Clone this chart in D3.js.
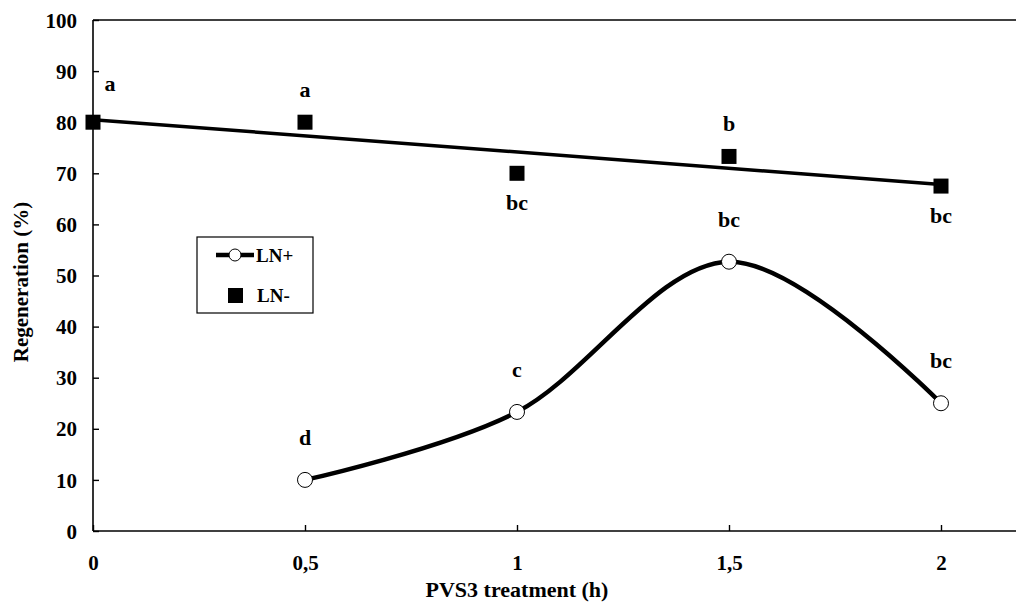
<!DOCTYPE html>
<html>
<head>
<meta charset="utf-8">
<script src="https://cdn.jsdelivr.net/npm/d3@7"></script>
<style>
  html, body { margin: 0; padding: 0; background: #fff; }
  svg { display: block; }
  svg text { font-family: "Liberation Serif", "DejaVu Serif", serif; font-weight: bold; fill: #000; }
</style>
</head>
<body>
<svg id="chart" width="1016" height="607"></svg>
<script>
// PVS3 exposure times (h)
const treatment = [0, 0.5, 1, 1.5, 2];

// Regeneration (%) with and without LN
const lnMinus = [80, 80, 70, 73.3, 67.5];
const lnPlusTreatment = [0.5, 1, 1.5, 2];
const lnPlus = [10, 23.3, 52.7, 25];

// Significance letters
const lnMinusLetters = ["a", "a", "bc", "b", "bc"];
const lnPlusLetters = ["d", "c", "bc", "bc"];

const xTicks = [0, 0.5, 1, 1.5, 2];
const xTickLabels = ["0", "0,5", "1", "1,5", "2"];
const yTicks = [0, 10, 20, 30, 40, 50, 60, 70, 80, 90, 100];

const svg = d3.select("#chart");
const plotLeft = 93, plotTop = 20, plotBottom = 531;

const x = d3.scaleLinear().domain([0, 2]).range([plotLeft, 941]);
const y = d3.scaleLinear().domain([0, 100]).range([plotBottom, plotTop]);

// Frame: left axis, bottom axis and top border
const frame = svg.append("g").attr("stroke", "#000").attr("stroke-width", 1.6);
frame.append("line").attr("x1", plotLeft).attr("x2", 1016).attr("y1", plotBottom).attr("y2", plotBottom);
frame.append("line").attr("x1", plotLeft).attr("x2", 1016).attr("y1", plotTop).attr("y2", plotTop);
frame.append("line").attr("x1", plotLeft).attr("x2", plotLeft).attr("y1", plotTop).attr("y2", plotBottom);

// Y axis: inward ticks
const yAxis = d3.axisLeft(y).tickValues(yTicks).tickSize(-6).tickPadding(16).tickFormat(d3.format("d"));
const gy = svg.append("g").attr("transform", `translate(${plotLeft},0)`).call(yAxis);
gy.attr("font-family", null).attr("font-size", null);
gy.select(".domain").remove();
gy.selectAll(".tick line").attr("stroke", "#000").attr("stroke-width", 1.4);
gy.selectAll(".tick text").style("font-size", "21px").attr("dy", "0.34em");

// X axis: inward ticks
const xAxis = d3.axisBottom(x).tickValues(xTicks).tickSize(-6).tickPadding(24)
  .tickFormat((d, i) => xTickLabels[i]);
const gx = svg.append("g").attr("transform", `translate(0,${plotBottom})`).call(xAxis);
gx.attr("font-family", null).attr("font-size", null);
gx.select(".domain").remove();
gx.selectAll(".tick line").attr("stroke", "#000").attr("stroke-width", 1.4);
gx.selectAll(".tick text").style("font-size", "21px").attr("dy", "0.71em");

// Axis titles
svg.append("text").attr("x", x(1)).attr("y", 597).attr("text-anchor", "middle")
  .style("font-size", "22px").text("PVS3 treatment (h)");
svg.append("text").attr("transform", `translate(28,282) rotate(-90)`)
  .attr("text-anchor", "middle").style("font-size", "21px").text("Regeneration (%)");

// LN- linear trend line (least squares)
const mx = d3.mean(treatment), my = d3.mean(lnMinus);
const slope = d3.sum(treatment, (t, i) => (t - mx) * (lnMinus[i] - my)) /
              d3.sum(treatment, t => (t - mx) * (t - mx));
const intercept = my - slope * mx;
const xExt = d3.extent(treatment);
svg.append("line")
  .attr("x1", x(xExt[0])).attr("y1", y(intercept + slope * xExt[0]))
  .attr("x2", x(xExt[1])).attr("y2", y(intercept + slope * xExt[1]))
  .attr("stroke", "#000").attr("stroke-width", 3.5);

// LN+ smoothed curve
const plusPts = lnPlusTreatment.map((t, i) => [t, lnPlus[i]]);
svg.append("path")
  .datum(plusPts)
  .attr("d", d3.line().x(d => x(d[0])).y(d => y(d[1])).curve(d3.curveCardinal.tension(0)))
  .attr("fill", "none").attr("stroke", "#000").attr("stroke-width", 4.5);

// LN- markers
const sq = 15;
svg.append("g").selectAll("rect").data(treatment).join("rect")
  .attr("x", d => x(d) - sq / 2)
  .attr("y", (d, i) => y(lnMinus[i]) - sq / 2)
  .attr("width", sq).attr("height", sq).attr("fill", "#000");

// LN+ markers
svg.append("g").selectAll("circle").data(plusPts).join("circle")
  .attr("cx", d => x(d[0])).attr("cy", d => y(d[1])).attr("r", 7.5)
  .attr("fill", "#fff").attr("stroke", "#000").attr("stroke-width", 1);

// Letters for LN-
const minusOffsets = [-31, -25, 37, -25, 37];
const minusDx = [17, 0, 0, 0, 0];
svg.append("g").selectAll("text").data(treatment).join("text")
  .attr("x", (d, i) => x(d) + minusDx[i])
  .attr("y", (d, i) => y(lnMinus[i]) + minusOffsets[i])
  .attr("text-anchor", "middle").style("font-size", "22px")
  .text((d, i) => lnMinusLetters[i]);

// Letters for LN+
svg.append("g").selectAll("text").data(plusPts).join("text")
  .attr("x", d => x(d[0]))
  .attr("y", d => y(d[1]) - 35)
  .attr("text-anchor", "middle").style("font-size", "22px")
  .text((d, i) => lnPlusLetters[i]);

// Legend
const lg = svg.append("g");
lg.append("rect").attr("x", 197).attr("y", 237).attr("width", 116).attr("height", 76)
  .attr("fill", "#fff").attr("stroke", "#000").attr("stroke-width", 1.2);
lg.append("line").attr("x1", 216).attr("x2", 254).attr("y1", 255).attr("y2", 255)
  .attr("stroke", "#000").attr("stroke-width", 4.5);
lg.append("circle").attr("cx", 235).attr("cy", 255).attr("r", 6)
  .attr("fill", "#fff").attr("stroke", "#000").attr("stroke-width", 1);
lg.append("text").attr("x", 256).attr("y", 262).style("font-size", "19px").text("LN+");
lg.append("rect").attr("x", 228).attr("y", 288).attr("width", 15).attr("height", 15).attr("fill", "#000");
lg.append("text").attr("x", 257).attr("y", 302).style("font-size", "19px").text("LN-");
</script>
</body>
</html>
